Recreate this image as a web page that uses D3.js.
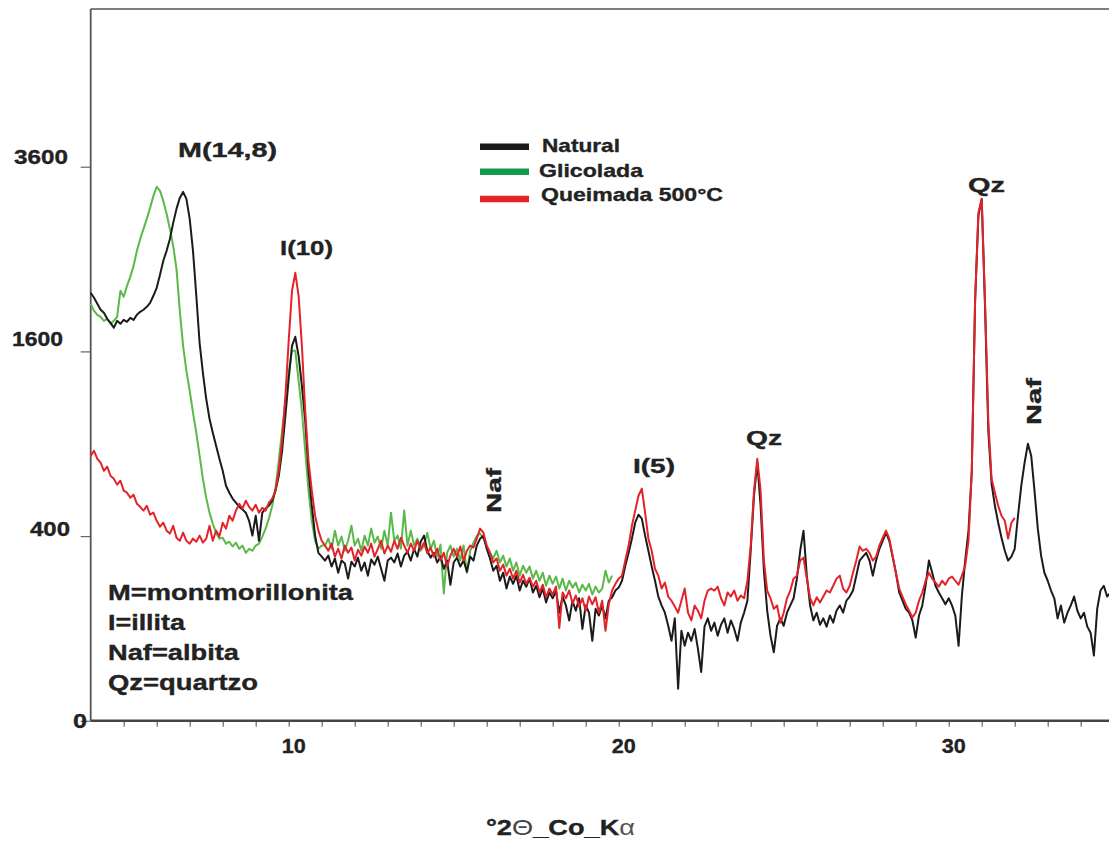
<!DOCTYPE html>
<html><head><meta charset="utf-8">
<script src="https://cdn.jsdelivr.net/npm/d3@7"></script>
<style>html,body{margin:0;padding:0;background:#fff;} svg{display:block;}</style>
</head><body>
<svg id="chart" width="1109" height="841"></svg>
<script>
// ---------------- DATA (counts, one value every 0.1 °2θ starting at 4.0) ----------------
const startTwoTheta = 4.0;
const stepTwoTheta = 0.1;

// Natural (black), 4.0 – 35.0
const natural = [
  2148,2098,2039,1981,1952,1895,1857,1811,1876,1848,
  1885,1867,1904,1885,1933,1961,1981,2009,2048,2118,
  2198,2332,2481,2590,2723,2907,3073,3206,3280,3194,
  2954,2590,2118,1675,1420,1216,1070,973,887,805,
  733,648,610,579,558,537,523,508,469,402,
  493,380,508,528,542,568,621,704,855,1091,
  1372,1649,1729,1562,1316,1056,733,542,402,331,
  316,301,320,279,309,257,301,290,237,297,
  279,312,264,294,247,305,286,316,271,230,
  301,312,294,328,279,320,335,301,347,316,
  376,402,339,312,331,294,316,271,301,217,
  294,312,279,301,261,316,301,360,389,402,
  347,309,264,282,230,257,205,244,220,247,
  199,230,211,237,193,214,179,205,164,193,
  176,199,137,181,156,118,169,142,176,99,
  156,137,75,147,130,156,123,169,179,199,
  208,230,282,331,389,460,498,479,402,339,
  279,230,181,156,137,106,75,123,12,95,
  66,91,75,99,61,28,104,123,95,113,
  85,108,123,91,118,99,75,113,137,169,
  339,594,781,542,264,142,85,55,106,123,
  106,137,156,176,237,339,424,247,156,118,
  137,108,123,104,130,113,142,156,137,169,
  181,199,247,301,316,331,301,247,301,347,
  380,415,380,316,257,193,169,147,137,118,
  81,130,156,214,301,257,214,193,176,159,
  176,156,130,66,184,301,424,733,2068,2990,
  3194,2019,987,659,542,460,393,339,301,316,
  347,493,648,781,900,824,621,433,320,257,
  230,199,176,123,156,113,137,156,181,142,
  123,137,104,91,50,147,199,214,181,193,
  169
];

// Glicolada (green), 4.0 – 19.8
const glicolada = [
  2039,1971,1933,1914,1876,1895,1848,1876,1914,2168,
  2108,2218,2311,2427,2590,2723,2837,2954,3085,3231,
  3344,3293,3169,3014,2837,2645,2395,1971,1649,1436,
  1277,1113,973,824,687,584,508,455,415,389,
  393,368,376,356,372,347,360,331,347,339,
  360,368,398,433,479,542,637,793,987,1201,
  1420,1605,1605,1356,1127,855,621,469,380,347,
  360,360,389,347,424,360,398,339,380,446,
  360,389,339,402,360,433,372,398,347,424,
  360,508,380,402,347,518,360,424,360,389,
  339,360,415,347,380,316,364,190,331,360,
  316,347,301,360,257,339,372,402,411,389,
  360,331,309,339,294,320,279,309,264,294,
  247,282,257,279,237,264,230,257,214,247,
  220,244,205,237,199,230,208,224,193,217,
  199,220,187,211,193,205,264,224,247
];

// Queimada 500°C (red), 4.0 – 32.0
const queimada = [
  824,855,805,781,733,757,704,687,654,676,
  621,610,584,599,552,537,518,542,498,508,
  469,442,460,424,411,446,393,380,415,380,
  368,389,376,402,372,389,446,380,424,398,
  460,433,493,469,518,552,528,568,537,518,
  547,508,532,518,558,579,621,733,920,1239,
  1693,2168,2353,2118,1649,1127,793,621,493,424,
  380,360,339,368,316,347,309,360,331,352,
  301,343,320,356,331,368,316,347,380,328,
  360,335,380,347,393,360,331,368,339,380,
  347,372,328,352,316,347,301,331,279,320,
  347,316,356,301,339,360,352,389,433,415,
  360,331,294,309,264,286,247,271,237,264,
  224,250,220,240,211,230,193,217,179,205,
  187,211,101,193,176,199,161,184,153,176,
  142,181,159,179,137,169,95,159,199,220,
  237,247,301,360,446,518,594,632,508,389,
  339,271,247,205,224,181,169,153,137,169,
  205,137,118,156,142,123,169,199,205,199,
  211,176,156,193,181,199,169,184,176,230,
  360,621,805,621,301,199,176,147,156,113,
  137,176,199,237,247,301,312,237,176,156,
  179,164,181,199,193,214,237,247,205,193,
  214,257,301,356,339,347,331,301,316,360,
  393,424,389,320,257,205,181,159,142,125,
  137,169,193,230,257,237,224,211,230,217,
  237,244,230,217,247,282,380,733,2068,3026,
  3194,2068,1056,687,610,542,493,469,389,460,
  483
];

const yTickValues = [0, 400, 1600, 3600];
const xMinorTicks = d3.range(5, 35);
const xTickLabels = [10, 20, 30];
const seriesNames = ["Natural", "Glicolada", "Queimada 500°C"];
const peakNames = ["M(14,8)", "I(10)", "Naf", "I(5)", "Qz", "Qz", "Naf"];
const mineralKey = ["M=montmorillonita", "I=illita", "Naf=albita", "Qz=quartzo"];

// ---------------- LAYOUT / STYLE ----------------
const W = 1109, H = 841;
const plotLeft = 90.7, plotTop = 9, plotBottom = 720.8;
const FONT = "'Liberation Sans', Arial, Helvetica, sans-serif";
const TXT = "#222";
const lineColors = ["#1b1b1b", "#5bb947", "#e3232a"];
const legendColors = ["#1a1a1a", "#12994a", "#e0262b"];

const svg = d3.select("#chart");
const x = d3.scaleLinear().domain([4, 35]).range([plotLeft, 1113.7]);
const y = d3.scaleSqrt().domain([0, 3600]).range([plotBottom, 166.7]);

function toPoints(arr) {
  return arr.map((v, i) => [+(startTwoTheta + i * stepTwoTheta).toFixed(1), v]);
}

function label(g, tx, ty, text, size, width, extra) {
  const t = g.append("text")
    .attr("x", tx).attr("y", ty)
    .attr("font-family", FONT).attr("font-weight", "bold")
    .attr("font-size", size).attr("fill", TXT)
    .attr("stroke", TXT).attr("stroke-width", 0.35)
    .text(text);
  if (width) t.attr("textLength", width).attr("lengthAdjust", "spacingAndGlyphs");
  if (extra) extra(t);
  return t;
}

// frame: top line and left axis
svg.append("line").attr("x1", plotLeft).attr("x2", W + 5).attr("y1", plotTop).attr("y2", plotTop)
  .attr("stroke", "#555").attr("stroke-width", 1.5);

// y axis
const yAxis = d3.axisLeft(y).tickValues(yTickValues).tickSize(10).tickSizeOuter(0).tickFormat("");
const gy = svg.append("g").attr("transform", `translate(${plotLeft},0)`).call(yAxis);
gy.select(".domain").remove();
gy.selectAll(".tick line").attr("stroke", "#666").attr("stroke-width", 1.2);
svg.append("line").attr("x1", plotLeft).attr("x2", plotLeft).attr("y1", plotTop).attr("y2", plotBottom)
  .attr("stroke", "#555").attr("stroke-width", 1.8);

const yLabelNudge = {0: {r: 87, dy: 0}, 400: {r: 70, dy: -7}, 1600: {r: 63, dy: -12}, 3600: {r: 68, dy: -10}};
const yLabelWidth = {0: 14, 400: 40, 1600: 51, 3600: 54};
yTickValues.forEach(v => {
  const n = yLabelNudge[v];
  label(svg, n.r, y(v) + n.dy + 7, String(v), 20, yLabelWidth[v], t => t.attr("text-anchor", "end"));
});

// x axis
const xAxis = d3.axisBottom(x).tickValues(xMinorTicks).tickSize(6).tickSizeOuter(0).tickFormat("");
const gx = svg.append("g").attr("transform", `translate(0,${plotBottom})`).call(xAxis);
gx.select(".domain").remove();
gx.selectAll(".tick line").attr("stroke", "#666").attr("stroke-width", 1.2);
svg.append("line").attr("x1", plotLeft).attr("x2", W + 5).attr("y1", plotBottom).attr("y2", plotBottom)
  .attr("stroke", "#444").attr("stroke-width", 2.5);
xTickLabels.forEach(v => {
  label(svg, x(v) + 5, 753, String(v), 20, 24, t => t.attr("text-anchor", "middle"));
});

// axis title
const title = svg.append("text").attr("x", 486).attr("y", 835)
  .attr("font-family", FONT).attr("font-size", 22).attr("fill", TXT)
  .attr("textLength", 149).attr("lengthAdjust", "spacingAndGlyphs");
title.append("tspan").attr("font-weight", "bold").attr("stroke", TXT).attr("stroke-width", 0.35).text("°2");
title.append("tspan").attr("font-weight", "normal").attr("fill", "#444").text("Θ");
title.append("tspan").attr("font-weight", "bold").attr("stroke", TXT).attr("stroke-width", 0.35).text("_Co_K");
title.append("tspan").attr("font-weight", "normal").attr("fill", "#555").text("α");

// ---------------- CURVES ----------------
const line = d3.line().x(d => x(d[0])).y(d => y(d[1]));
const series = [
  {data: glicolada, color: lineColors[1]},
  {data: natural, color: lineColors[0]},
  {data: queimada, color: lineColors[2]}
];
series.forEach(s => {
  svg.append("path").datum(toPoints(s.data))
    .attr("d", line).attr("fill", "none")
    .attr("stroke", s.color).attr("stroke-width", 2)
    .attr("stroke-linejoin", "round");
});

// ---------------- LEGEND ----------------
const legendY = [146.7, 171.7, 199];
const legendTextX = [542, 539, 541];
const legendTextY = [152, 177, 201];
const legendTextW = [78, 104, 182];
seriesNames.forEach((name, i) => {
  svg.append("line").attr("x1", 480).attr("x2", 529).attr("y1", legendY[i]).attr("y2", legendY[i])
    .attr("stroke", legendColors[i]).attr("stroke-width", 6.5);
  label(svg, legendTextX[i], legendTextY[i], name, 19, legendTextW[i]);
});

// ---------------- PEAK LABELS ----------------
const peakLayout = [
  {x: 178, y: 157, w: 99, rot: false},
  {x: 280, y: 255, w: 53, rot: false},
  {x: 501, y: 513, w: 45, rot: true},
  {x: 633, y: 473, w: 42, rot: false},
  {x: 746, y: 445, w: 36, rot: false},
  {x: 968, y: 192, w: 37, rot: false},
  {x: 1041, y: 425, w: 47, rot: true}
];
peakNames.forEach((name, i) => {
  const p = peakLayout[i];
  if (p.rot) {
    label(svg, 0, 0, name, 20, p.w, t => t.attr("transform", `translate(${p.x},${p.y}) rotate(-90)`));
  } else {
    label(svg, p.x, p.y, name, 20, p.w);
  }
});

// ---------------- MINERAL KEY ----------------
const keyW = [245, 77, 131, 150];
mineralKey.forEach((s, i) => {
  label(svg, 108, 600 + i * 30, s, 22, keyW[i]);
});
</script>
</body></html>
